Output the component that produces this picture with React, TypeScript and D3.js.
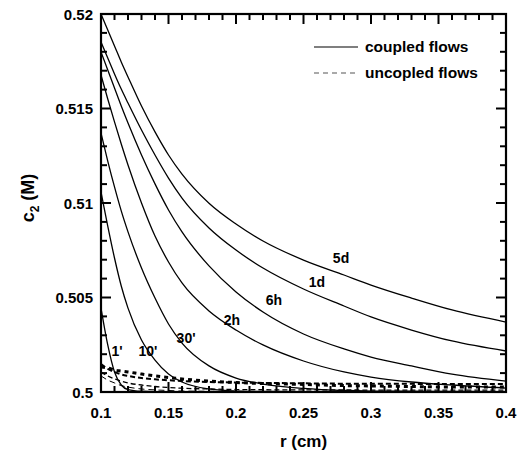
import React from "react";
import * as d3 from "d3";

const rGrid = [0.1, 0.105, 0.11, 0.115, 0.12, 0.13, 0.14, 0.15, 0.16, 0.18, 0.2, 0.22, 0.25, 0.28, 0.3, 0.33, 0.36, 0.4];

const coupled5d = [0.52, 0.51915, 0.51831, 0.51746, 0.51667, 0.51513, 0.51376, 0.51254, 0.51153, 0.50999, 0.50889, 0.50799, 0.50698, 0.50619, 0.50566, 0.50497, 0.50434, 0.50370];
const coupled1d = [0.51852, 0.51767, 0.51683, 0.51603, 0.51529, 0.51386, 0.51254, 0.51132, 0.51026, 0.50868, 0.50751, 0.50656, 0.50545, 0.50455, 0.50397, 0.50328, 0.5027, 0.50217];
const coupled6h = [0.51799, 0.51704, 0.51608, 0.51513, 0.51423, 0.51254, 0.51101, 0.50963, 0.50847, 0.50667, 0.50529, 0.50423, 0.50307, 0.50228, 0.50185, 0.50138, 0.50095, 0.50058];
const coupled2h = [0.51677, 0.5155, 0.51429, 0.51312, 0.51201, 0.51, 0.50825, 0.50688, 0.50577, 0.50429, 0.50328, 0.50249, 0.50164, 0.50106, 0.50079, 0.50053, 0.50037, 0.50021];
const coupled30m = [0.5137, 0.51222, 0.51085, 0.50958, 0.50847, 0.50656, 0.50497, 0.5036, 0.50259, 0.50138, 0.50074, 0.50042, 0.50019, 0.50008, 0.50005, 0.50004, 0.50003, 0.50002];
const coupled10m = [0.51058, 0.50878, 0.50709, 0.50561, 0.50444, 0.50275, 0.50169, 0.50095, 0.50053, 0.50016, 0.50005, 0.50003, 0.50002, 0.50002, 0.50002, 0.50002, 0.50002, 0.50002];
const coupled1m = [0.50444, 0.50249, 0.50106, 0.50037, 0.50013, 0.50004, 0.50002, 0.50002, 0.50002, 0.50002, 0.50002, 0.50002, 0.50002, 0.50002, 0.50002, 0.50002, 0.50002, 0.50002];

const uncoupledA = [0.50132, 0.50127, 0.50116, 0.50111, 0.50106, 0.50095, 0.50085, 0.50077, 0.50069, 0.50058, 0.5005, 0.50045, 0.5004, 0.50034, 0.50032, 0.50029, 0.50026, 0.50026];
const uncoupledB = [0.50148, 0.50122, 0.50106, 0.50093, 0.50085, 0.50074, 0.50067, 0.50062, 0.50058, 0.50053, 0.5005, 0.50048, 0.50046, 0.50044, 0.50043, 0.50043, 0.50042, 0.50042];
const uncoupledC = [0.50106, 0.50085, 0.50069, 0.50058, 0.50048, 0.50037, 0.50029, 0.50024, 0.5002, 0.50016, 0.50013, 0.50012, 0.50011, 0.50011, 0.5001, 0.5001, 0.5001, 0.5001];
const uncoupledD = [0.50085, 0.50063, 0.50048, 0.50034, 0.50026, 0.50016, 0.50011, 0.50008, 0.50005, 0.50004, 0.50004, 0.50003, 0.50003, 0.50003, 0.50003, 0.50003, 0.50003, 0.50003];

const curveLabels = ["5d", "1d", "6h", "2h", "30'", "10'", "1'"];
const labelR = [0.2778, 0.26, 0.2281, 0.197, 0.163, 0.1348, 0.1119];
const labelC = [0.50709, 0.50582, 0.50487, 0.50381, 0.50286, 0.50217, 0.50217];

const xTickLabels = ["0.1", "0.15", "0.2", "0.25", "0.3", "0.35", "0.4"];
const yTickLabels = ["0.5", "0.505", "0.51", "0.515", "0.52"];
const xTickValues = [0.1, 0.11, 0.12, 0.13, 0.14, 0.15, 0.16, 0.17, 0.18, 0.19, 0.2, 0.21, 0.22, 0.23, 0.24, 0.25, 0.26, 0.27, 0.28, 0.29, 0.3, 0.31, 0.32, 0.33, 0.34, 0.35, 0.36, 0.37, 0.38, 0.39, 0.4];
const yTickValues = [0.5, 0.501, 0.502, 0.503, 0.504, 0.505, 0.506, 0.507, 0.508, 0.509, 0.51, 0.511, 0.512, 0.513, 0.514, 0.515, 0.516, 0.517, 0.518, 0.519, 0.52];
const legendLabels = ["coupled flows", "uncopled flows"];

const W = 522;
const H = 458;
const L = 101, R = 506, T = 14, B = 392;
const FONT = "'Liberation Sans', Arial, Helvetica, sans-serif";

export default function App() {
  const x = d3.scaleLinear().domain([0.1, 0.4]).range([L, R]);
  const y = d3.scaleLinear().domain([0.5, 0.52]).range([B, T]);
  const line = d3
    .line<[number, number]>()
    .x((d) => x(d[0]))
    .y((d) => y(d[1]))
    .curve(d3.curveMonotoneX);
  const mk = (arr: number[]) => rGrid.map((r, i) => [r, arr[i]] as [number, number]);

  const solids = [coupled5d, coupled1d, coupled6h, coupled2h, coupled30m, coupled10m, coupled1m];
  const dashed = [
    { d: uncoupledD, w: 1, dash: "6,4" },
    { d: uncoupledC, w: 1.3, dash: "5,3" },
    { d: uncoupledB, w: 2, dash: "5,3" },
    { d: uncoupledA, w: 3, dash: "4,4" },
  ];

  const tickLines: React.ReactElement[] = [];
  xTickValues.forEach((v, i) => {
    const len = i % 5 === 0 ? 10 : 6;
    const px = x(v);
    tickLines.push(<line key={"tb" + i} x1={px} x2={px} y1={B} y2={B - len} stroke="#000" strokeWidth={2} />);
    tickLines.push(<line key={"tt" + i} x1={px} x2={px} y1={T} y2={T + len} stroke="#000" strokeWidth={2} />);
  });
  yTickValues.forEach((v, i) => {
    const len = i % 5 === 0 ? 10 : 6;
    const py = y(v);
    tickLines.push(<line key={"tl" + i} x1={L} x2={L + len} y1={py} y2={py} stroke="#000" strokeWidth={2} />);
    tickLines.push(<line key={"tr" + i} x1={R} x2={R - len} y1={py} y2={py} stroke="#000" strokeWidth={2} />);
  });

  return (
    <svg width={W} height={H} style={{ position: "absolute", left: 0, top: 0, background: "#fff" }} fontFamily={FONT}>
      <defs>
        <clipPath id="plotclip">
          <rect x={L} y={T} width={R - L} height={B - T} />
        </clipPath>
      </defs>
      <g clipPath="url(#plotclip)">
        {dashed.map((s, i) => (
          <path key={"u" + i} d={line(mk(s.d)) || ""} fill="none" stroke="#000" strokeWidth={s.w} strokeDasharray={s.dash} />
        ))}
        {solids.map((s, i) => (
          <path key={"s" + i} d={line(mk(s)) || ""} fill="none" stroke="#000" strokeWidth={1.3} />
        ))}
      </g>
      <rect x={L} y={T} width={R - L} height={B - T} fill="none" stroke="#000" strokeWidth={2.2} />
      <g>{tickLines}</g>
      {xTickLabels.map((t, i) => (
        <text key={"xl" + i} x={x(+t)} y={B + 26} textAnchor="middle" fontSize={15} fontWeight="bold">
          {t}
        </text>
      ))}
      {yTickLabels.map((t, i) => (
        <text key={"ylab" + i} x={L - 8} y={y(+t) + 5.5} textAnchor="end" fontSize={15} fontWeight="bold">
          {t}
        </text>
      ))}
      <text x={(L + R) / 2} y={447} textAnchor="middle" fontSize={17} fontWeight="bold">
        r (cm)
      </text>
      <text transform={`translate(34,${198}) rotate(-90)`} textAnchor="middle" fontSize={18} fontWeight="bold">
        c<tspan fontSize={12} dy={5}>2</tspan>
        <tspan dy={-5}> (M)</tspan>
      </text>
      {curveLabels.map((t, i) => (
        <text key={"cl" + i} x={x(labelR[i])} y={y(labelC[i]) + 5} textAnchor="middle" fontSize={14} fontWeight="bold">
          {t}
        </text>
      ))}
      <line x1={314} x2={358} y1={47} y2={47} stroke="#000" strokeWidth={1.2} />
      <text x={365} y={52} fontSize={15.5} fontWeight="bold">
        {legendLabels[0]}
      </text>
      <line x1={314} x2={358} y1={73} y2={73} stroke="#555" strokeWidth={1.2} strokeDasharray="5,4" />
      <text x={365} y={78} fontSize={15.5} fontWeight="bold">
        {legendLabels[1]}
      </text>
    </svg>
  );
}
